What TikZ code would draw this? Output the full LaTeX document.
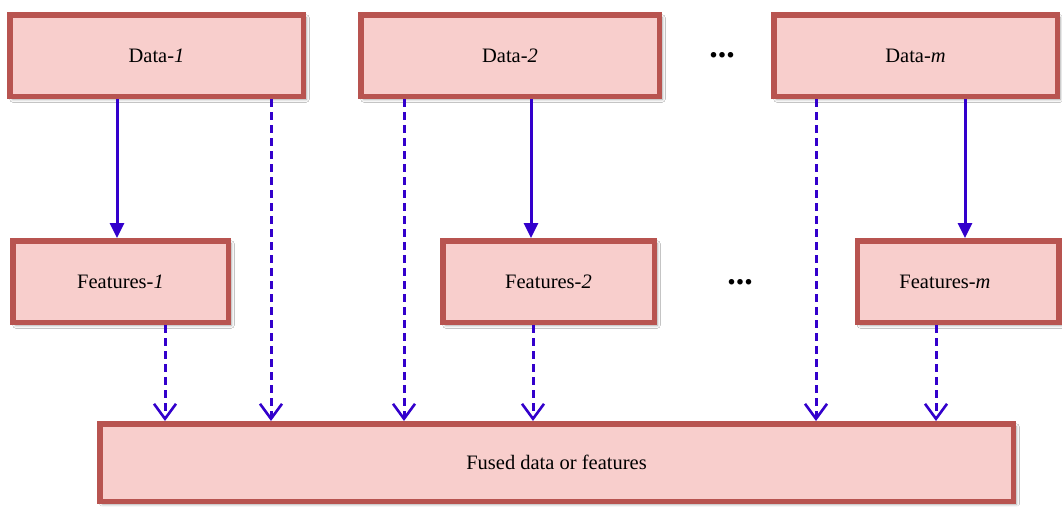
\documentclass[tikz,border=0pt]{standalone}
\usepackage{fontspec}
\setmainfont{Liberation Serif}
\usetikzlibrary{arrows.meta,shadows.blur}
\definecolor{boxfill}{HTML}{F8CECC}
\definecolor{boxline}{HTML}{B85450}
\definecolor{arrowblue}{RGB}{51,0,204}
\tikzset{
  box/.style={draw=boxline, fill=boxfill, line width=5.5pt, inner sep=0pt,
    font=\fontsize{20.5}{24}\selectfont,
    blur shadow={shadow xshift=3pt, shadow yshift=-3pt, shadow blur radius=3pt, shadow opacity=35}},
  solidarrow/.style={draw=arrowblue, line width=3pt, -{Triangle[length=15pt,width=14pt]}},
  dasharrow/.style={draw=arrowblue, line width=3pt, dash pattern=on 8pt off 5pt,
    -{Straight Barb[length=15pt,width=22pt,line width=2.6pt]}},
  dots/.style={font=\fontsize{34}{34}\selectfont\bfseries}
}
\begin{document}
\begin{tikzpicture}[x=1pt,y=-1pt]
\fill[white] (0,0) rectangle (1062,506);
\useasboundingbox (0,0) rectangle (1062,506);
% top data boxes
\node[box, minimum width=293.5pt, minimum height=81.5pt] (D1) at (156.5,55.5) {Data-\textit{1}};
\node[box, minimum width=298.5pt, minimum height=81.5pt] (D2) at (510,55.5) {Data-\textit{2}};
\node[box, minimum width=283.5pt, minimum height=81.5pt] (Dm) at (915.5,55.5) {Data-\textit{m}};
% feature boxes
\node[box, minimum width=215.5pt, minimum height=81.5pt] (F1) at (120.5,281.5) {Features-\textit{1}};
\node[box, minimum width=211.5pt, minimum height=81.5pt] (F2) at (548.5,281.5) {Features-\textit{2}};
\node[box, minimum width=201.5pt, minimum height=81.5pt] (Fm) at (958,281.5) {\hspace*{-26pt}Features-\textit{m}};
% fused box
\node[box, minimum width=913.5pt, minimum height=77.5pt] (Fu) at (556.5,462.5) {Fused data or features};
% dots
\node[dots] (dt) at (722,55) {...};
\node[dots] (db) at (740,282) {...};
% solid arrows
\draw[solidarrow] ([xshift=-3.5pt]F1.north |- D1.south) -- ([xshift=-3.5pt]F1.north);
\draw[solidarrow] ([xshift=-17.5pt]F2.north |- D2.south) -- ([xshift=-17.5pt]F2.north);
\draw[solidarrow] ([xshift=7pt]Fm.north |- Dm.south) -- ([xshift=7pt]Fm.north);
% dashed arrows
\draw[dasharrow] ([xshift=44.5pt]F1.south) -- ([xshift=44.5pt]F1.south |- Fu.north);
\draw[dasharrow] ([xshift=114.5pt]D1.south) -- ([xshift=114.5pt]D1.south |- Fu.north);
\draw[dasharrow] ([xshift=-106pt]D2.south) -- ([xshift=-106pt]D2.south |- Fu.north);
\draw[dasharrow] ([xshift=-15.5pt]F2.south) -- ([xshift=-15.5pt]F2.south |- Fu.north);
\draw[dasharrow] ([xshift=-99.5pt]Dm.south) -- ([xshift=-99.5pt]Dm.south |- Fu.north);
\draw[dasharrow] ([xshift=-22pt]Fm.south) -- ([xshift=-22pt]Fm.south |- Fu.north);
\end{tikzpicture}
\end{document}
